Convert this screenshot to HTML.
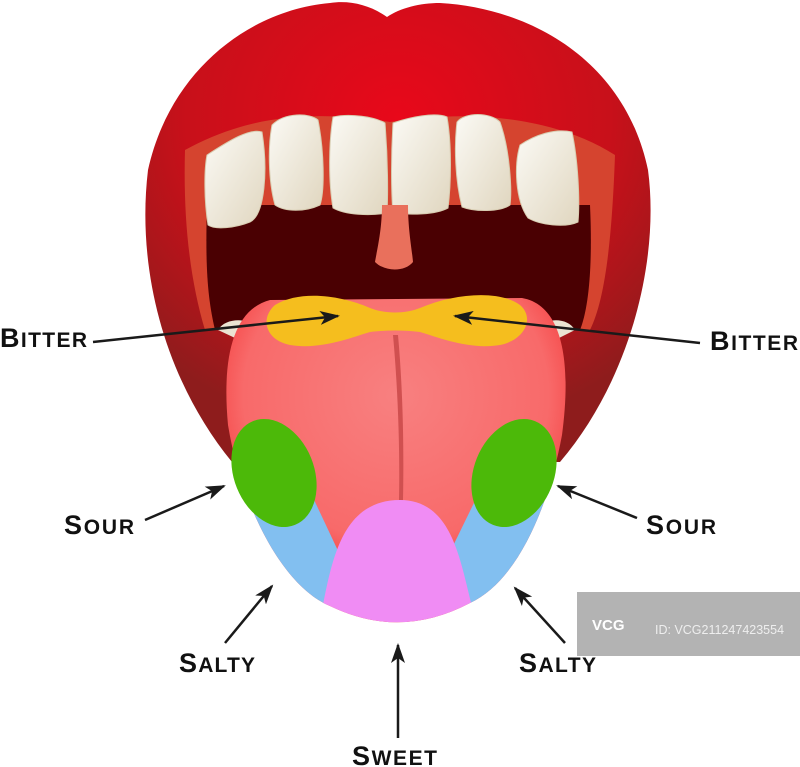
<!DOCTYPE html>
<html><head><meta charset="utf-8"><style>
html,body{margin:0;padding:0;background:#fff;}
svg{display:block}
text{font-family:"Liberation Sans",sans-serif;font-weight:bold;font-size:27px;fill:#111;letter-spacing:1px}
text tspan.s{font-size:21px}
</style></head><body>
<svg width="800" height="767" viewBox="0 0 800 767" xmlns="http://www.w3.org/2000/svg">
<defs>
<radialGradient id="lip" cx="0.5" cy="0.25" r="0.7">
<stop offset="0" stop-color="#e8081a"/><stop offset="0.6" stop-color="#c8101a"/><stop offset="1" stop-color="#8e1c1c"/></radialGradient>
<radialGradient id="tg" cx="0.5" cy="0.3" r="0.6">
<stop offset="0" stop-color="#f88080"/><stop offset="0.75" stop-color="#f86a6a"/><stop offset="1" stop-color="#f43838"/></radialGradient>
<linearGradient id="tooth" x1="0" y1="0" x2="1" y2="1"><stop offset="0" stop-color="#fbfaf5"/><stop offset="1" stop-color="#e0d6bf"/></linearGradient>
<clipPath id="tc"><path d="M270 300 C232 310 222 360 228 425 C240 500 280 585 330 606 Q400 640 470 603 C520 580 550 500 562 435 C572 360 562 305 522 298 Z"/></clipPath>
<marker id="ah" viewBox="0 0 20 14" refX="18" refY="7" markerWidth="20" markerHeight="14" markerUnits="userSpaceOnUse" orient="auto"><path d="M0 0 L20 7 L0 14 L5 7 Z" fill="#1a1a1a"/></marker>
</defs>
<!-- lips -->
<path d="M387 17 C370 5 350 0 330 3 C250 10 170 70 148 170 C136 270 165 380 232 462 L560 462 C630 380 660 260 648 170 C625 60 530 8 440 3 C420 3 400 8 387 17 Z" fill="url(#lip)"/>
<!-- mouth band -->
<path d="M185 150 C240 120 300 108 390 122 C480 108 560 120 615 155 C612 240 605 300 590 330 L205 330 C190 280 183 220 185 150 Z" fill="#d5442f"/>
<path d="M207 205 L590 205 C593 270 588 310 580 330 L215 330 C208 300 205 270 207 205 Z" fill="#4a0002"/>
<!-- teeth -->
<g fill="url(#tooth)" stroke="#d8cdb2" stroke-width="1">
<path d="M207 155 C230 140 250 128 262 132 C268 170 265 215 250 222 C235 228 215 230 208 225 C204 200 204 170 207 155 Z"/>
<path d="M272 125 C285 112 310 113 318 120 C324 150 325 190 320 205 C305 212 285 212 275 205 C268 180 268 145 272 125 Z"/>
<path d="M333 117 C350 113 375 117 385 123 C388 160 388 195 387 213 C370 216 345 215 333 208 C328 180 329 140 333 117 Z"/>
<path d="M393 123 C410 117 435 112 447 117 C452 145 451 185 448 208 C435 215 410 215 393 213 C391 190 391 155 393 123 Z"/>
<path d="M457 122 C465 112 490 112 500 122 C510 150 512 190 510 205 C500 212 475 212 462 207 C455 180 454 145 457 122 Z"/>
<path d="M520 145 C535 135 555 128 572 132 C578 160 580 200 578 222 C565 228 540 225 528 218 C515 200 514 165 520 145 Z"/>
</g>
<path d="M382 205 L408 205 C408 230 412 250 413 262 C405 272 385 272 375 262 C377 250 382 230 382 205 Z" fill="#e9705c"/>
<path d="M218 330 C225 318 245 318 255 325 L250 345 Z M575 330 C568 318 550 318 540 325 L545 345 Z" fill="#ebe3d2"/>
<!-- tongue -->
<path d="M270 300 C232 310 222 360 228 425 C240 500 280 585 330 606 Q400 640 470 603 C520 580 550 500 562 435 C572 360 562 305 522 298 Z" fill="url(#tg)"/>
<g clip-path="url(#tc)">
<path d="M200 470 L300 470 L340 555 L325 612 L180 612 Z" fill="#82bff0"/>
<path d="M600 470 L490 470 L452 548 L470 612 L620 612 Z" fill="#82bff0"/>
<path d="M322 610 C332 560 342 500 400 500 C452 500 460 560 472 606 Q400 645 322 610 Z" fill="#f08cf4"/>
</g>
<ellipse cx="274" cy="473" rx="40" ry="56" transform="rotate(-22 274 473)" fill="#4cb909"/>
<ellipse cx="514" cy="473" rx="40" ry="56" transform="rotate(22 514 473)" fill="#4cb909"/>
<path d="M398 335 C403 390 404 450 403 500 L399 500 C400 450 398 390 393 335 Z" fill="#d05050"/>
<path d="M275 305 C300 290 340 295 370 308 C385 314 405 314 420 308 C455 293 500 290 520 305 C535 318 525 340 500 345 C470 350 440 338 420 332 C405 330 385 330 370 332 C350 338 320 350 290 345 C265 340 260 318 275 305 Z" fill="#f5be1e"/>
<!-- watermark -->
<rect x="577" y="592" width="223" height="64" fill="#b3b3b3"/>
<text x="592" y="630" style="font-size:15px;fill:#fff;letter-spacing:0">VCG</text>
<text x="655" y="634" style="font-weight:normal;font-size:12.5px;fill:#eee;letter-spacing:0">ID: VCG211247423554</text>
<g stroke="#1a1a1a" stroke-width="2.5" fill="none" marker-end="url(#ah)">
<line x1="93" y1="342" x2="338" y2="316"/>
<line x1="700" y1="343" x2="455" y2="316"/>
<line x1="145" y1="520" x2="224" y2="486"/>
<line x1="637" y1="518" x2="558" y2="486"/>
<line x1="225" y1="643" x2="272" y2="586"/>
<line x1="565" y1="643" x2="515" y2="588"/>
<line x1="398" y1="738" x2="398" y2="645"/>
</g>
<text x="0" y="347" textLength="88">B<tspan class="s">ITTER</tspan></text>
<text x="710" y="350" textLength="89">B<tspan class="s">ITTER</tspan></text>
<text x="64" y="534" textLength="71">S<tspan class="s">OUR</tspan></text>
<text x="646" y="534" textLength="71">S<tspan class="s">OUR</tspan></text>
<text x="179" y="672" textLength="77">S<tspan class="s">ALTY</tspan></text>
<text x="519" y="672" textLength="78">S<tspan class="s">ALTY</tspan></text>
<text x="352" y="765" textLength="86">S<tspan class="s">WEET</tspan></text>
</svg>
</body></html>
